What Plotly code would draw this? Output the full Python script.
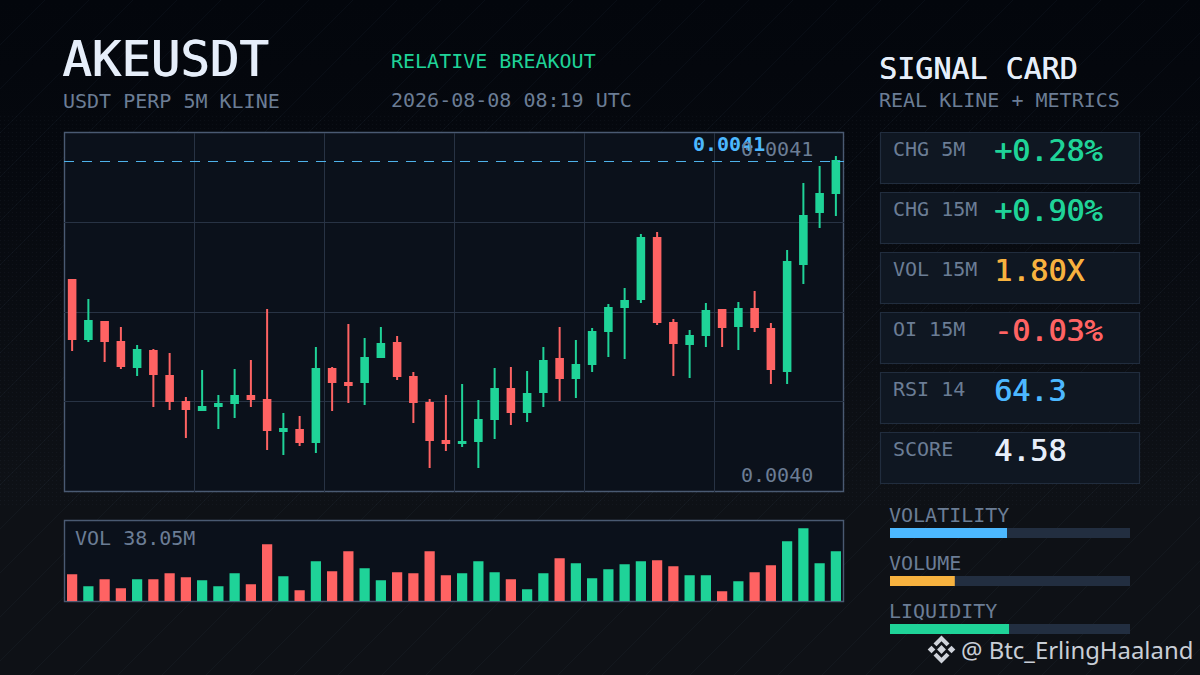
import base64
import plotly.graph_objects as go

# ---------- data ----------
high = [0.0040687,0.0040617,0.004054,0.0040519,0.0040456,0.0040442,0.0040428,0.0040274,0.00403685,0.0040281,0.0040372,0.00404035,
        0.0040582,0.0040218,0.00402075,0.0040449,0.0040379,0.00405295,0.00404805,0.0040519,0.00404875,0.00403615,0.0040267,0.0040281,
        0.00403195,0.00402635,0.00403755,0.0040379,0.0040365,0.0040449,0.0040519,0.00404735,0.00405155,0.00405995,0.00406555,0.00408445,
        0.00408515,0.0040547,0.00405085,0.0040603,0.0040582,0.00406065,0.0040645,0.0040533,0.00407885,0.0041023,0.00410825,0.00411175]
low = [0.0040435,0.00404665,0.00403965,0.0040372,0.00403475,0.0040239,0.00402285,0.00401305,0.0040225,0.0040162,0.00402005,0.0040239,
       0.00400885,0.0040071,0.00401025,0.0040078,0.0040225,0.0040253,0.0040246,0.00404105,0.00403335,0.0040183,0.00400255,0.0040085,
       0.0040099,0.00400255,0.0040127,0.0040176,0.00401865,0.0040239,0.004026,0.00402705,0.00403615,0.0040414,0.0040407,0.0040603,
       0.0040526,0.00403475,0.00403405,0.0040449,0.0040449,0.00404385,0.00405015,0.00403195,0.00403195,0.00406695,0.00408655,0.00409075]
open_ = [0.00406835,0.0040477,0.00405365,0.00404665,0.0040379,0.0040435,0.00403475,0.00402565,0.00402285,0.00402425,0.0040253,0.00402775,
         0.00402635,0.0040155,0.00401585,0.00401165,0.0040372,0.0040323,0.00403265,0.0040414,0.0040463,0.0040344,0.0040253,0.004012,
         0.0040113,0.004012,0.0040197,0.0040302,0.00402215,0.00402915,0.0040407,0.00403405,0.00403895,0.0040505,0.0040589,0.0040617,
         0.00408305,0.0040533,0.00404595,0.0040491,0.00405785,0.00405225,0.0040582,0.0040512,0.0040365,0.00407395,0.00409215,0.0040988]
close = [0.0040477,0.004054,0.004047,0.00403825,0.00404385,0.00403545,0.004026,0.0040232,0.0040239,0.00402495,0.00402775,0.0040267,
         0.00401585,0.0040162,0.00401165,0.0040372,0.00403265,0.0040316,0.00404105,0.00404595,0.00403475,0.00402565,0.00401235,0.0040113,
         0.00401165,0.00401935,0.0040302,0.00402215,0.00402845,0.00404,0.00403405,0.0040386,0.00405015,0.00405855,0.0040610,0.00408305,
         0.00405365,0.0040463,0.00404875,0.0040575,0.0040519,0.0040582,0.0040519,0.0040372,0.00407465,0.00409075,0.00409845,0.00411]
volume_m = [20.5,11.4,16.7,9.9,16.7,16.7,21.3,18.2,16.0,11.4,21.3,12.9,43.3,19.0,8.4,30.4,22.8,38.0,25.1,16.0,22.0,21.3,38.0,19.8,
            21.3,30.4,22.0,16.7,9.1,21.3,32.7,28.9,17.5,24.3,28.1,30.4,31.2,26.6,19.8,19.8,7.6,15.2,22.0,27.4,45.6,55.5,28.9,38.05]
candle_idx = list(range(len(close)))
last_price = 0.00410983

metric_names = ["VOLATILITY", "VOLUME", "LIQUIDITY"]
metric_values = [0.4875, 0.27, 0.496]
card_labels = ["CHG 5M", "CHG 15M", "VOL 15M", "OI 15M", "RSI 14", "SCORE"]
card_values = ["+0.28%", "+0.90%", "1.80X", "-0.03%", "64.3", "4.58"]

GREEN, RED, BLUE, ORANGE, WHITE, GRAY = "#1fd398", "#ff6363", "#4cb8ff", "#f7b23f", "#e6eefa", "#6b7d95"
card_colors = [GREEN, GREEN, ORANGE, RED, BLUE, WHITE]
metric_colors = [BLUE, ORANGE, GREEN]
MONO = "DejaVu Sans Mono"
W, H = 1200, 675


def px(x):
    return x / W


def py(y):
    return 1 - y / H


# ---------- background picture: gradient, hairlines, dots ----------
diag = "".join(f'<line x1="{d}" y1="0" x2="{d-900}" y2="900"/>' for d in range(45, 2100, 44))
svg = f'''<svg xmlns="http://www.w3.org/2000/svg" width="{W}" height="{H}" viewBox="0 0 {W} {H}">
<defs><linearGradient id="g" x1="0" y1="0" x2="0" y2="1">
<stop offset="0" stop-color="#03060c"/><stop offset="0.2" stop-color="#05080e"/>
<stop offset="0.72" stop-color="#0e1116"/><stop offset="1" stop-color="#0e1116"/></linearGradient>
<pattern id="d" width="4" height="4" patternUnits="userSpaceOnUse"><rect width="1" height="1" fill="#8fa8c8" fill-opacity="0.05"/></pattern></defs>
<rect width="{W}" height="{H}" fill="url(#g)"/>
<rect y="113" width="{W}" height="392" fill="url(#d)"/>
<g stroke="#7fa0c4" stroke-opacity="0.05" stroke-width="1">{diag}</g></svg>'''
bg_uri = "data:image/svg+xml;base64," + base64.b64encode(svg.encode()).decode()

# ---------- traces ----------
fig = go.Figure()
fig.add_trace(go.Candlestick(
    x=candle_idx, open=open_, high=high, low=low, close=close,
    increasing=dict(line=dict(color=GREEN, width=2), fillcolor=GREEN),
    decreasing=dict(line=dict(color=RED, width=2), fillcolor=RED),
    whiskerwidth=0, xaxis="x", yaxis="y", showlegend=False,
))
fig.add_trace(go.Scatter(
    x=[candle_idx[0] - 0.5, candle_idx[-1] + 0.5], y=[last_price, last_price], mode="lines",
    line=dict(color="#4fb2ea", width=1, dash="10px,8px"), xaxis="x", yaxis="y", showlegend=False,
))
fig.add_trace(go.Bar(
    x=candle_idx, y=volume_m, width=0.63,
    marker=dict(color=[GREEN if c >= o else RED for o, c in zip(open_, close)], line_width=0),
    xaxis="x2", yaxis="y2", showlegend=False,
))
fig.add_trace(go.Bar(
    y=metric_names, x=[1] * len(metric_names), orientation="h", width=0.208,
    marker=dict(color="#222e40", line_width=0), xaxis="x3", yaxis="y3", showlegend=False,
))
fig.add_trace(go.Bar(
    y=metric_names, x=metric_values, orientation="h", width=0.208,
    marker=dict(color=metric_colors, line_width=0), xaxis="x3", yaxis="y3", showlegend=False,
))

# ---------- panels ----------
shapes = []
for (x0, y0, x1, y1) in [(64.5, 132.5, 843.5, 491.5), (64.5, 520.5, 843.5, 601.5)]:
    shapes.append(dict(type="rect", xref="paper", yref="paper", x0=px(x0), x1=px(x1), y0=py(y0), y1=py(y1),
                       fillcolor="#0b111b", line=dict(color="#4a5a72", width=1.4), layer="below"))
for i in range(6):
    top = 132.5 + 60 * i
    shapes.append(dict(type="rect", xref="paper", yref="paper", x0=px(880.5), x1=px(1139.5), y0=py(top), y1=py(top + 51),
                       fillcolor="#0f1722", line=dict(color="#212d3e", width=1.2), layer="below"))


# Binance-style watermark logo
def diamond(cx, cy, r):
    return [(cx, cy - r), (cx + r, cy), (cx, cy + r), (cx - r, cy)]


def poly(points):
    return "M " + " L ".join(f"{px(x):.5f},{py(y):.5f}" for x, y in points) + " Z"


LC, CX, CY = "#cfd3da", 941.5, 649.5
logo = [diamond(CX, CY, 4.4), diamond(CX - 10, CY, 3.8), diamond(CX + 10, CY, 3.8),
        [(CX, CY - 14), (CX + 8, CY - 6), (CX + 5, CY - 3.2), (CX, CY - 8.2), (CX - 5, CY - 3.2), (CX - 8, CY - 6)],
        [(CX, CY + 14), (CX + 8, CY + 6), (CX + 5, CY + 3.2), (CX, CY + 8.2), (CX - 5, CY + 3.2), (CX - 8, CY + 6)]]
for pts in logo:
    shapes.append(dict(type="path", xref="paper", yref="paper", path=poly(pts), fillcolor=LC, line_width=0, layer="above"))

# ---------- texts ----------
ann = []


def label(text, x, y, size, color, bold=False, family=MONO, heavy=0):
    shown = f"<b>{text}</b>" if bold else text
    font = dict(family=family, size=size, color=color)
    if heavy:
        font["shadow"] = f"{heavy}px 0 0 {color}"
    ann.append(dict(text=shown, xref="paper", yref="paper", x=px(x), y=py(y), xanchor="left", yanchor="middle",
                    showarrow=False, borderpad=0, borderwidth=0, align="left", font=font))


label("AKEUSDT", 62, 59.5, 49, WHITE, heavy=1)
label("USDT PERP 5M KLINE", 63, 101, 20, GRAY)
label("RELATIVE BREAKOUT", 391, 61, 20, GREEN)
label("2026-08-08 08:19 UTC", 391, 99.5, 20, GRAY)
label("SIGNAL CARD", 879, 68.5, 30, WHITE, heavy=0.5)
label("REAL KLINE + METRICS", 879, 100.5, 20, GRAY)
label("0.0041", 693, 144, 20, BLUE, bold=True)
label("0.0041", 741, 149, 20, GRAY)
label("0.0040", 741, 475, 20, GRAY)
label("VOL 38.05M", 75, 537.5, 20, GRAY)
for i, (lab, val, col) in enumerate(zip(card_labels, card_values, card_colors)):
    top = 132 + 60 * i
    label(lab, 893, top + 17, 20, GRAY)
    label(val, 994, top + 18.5, 30, col, heavy=0.7)
for name, y in zip(metric_names, [515, 563, 611]):
    label(name, 889, y, 20, GRAY)
label("@ Btc_ErlingHaaland", 961, 649, 23.9, "#c9ced6", family="Noto Sans")

# ---------- layout ----------
hidden = dict(showgrid=False, zeroline=False, showticklabels=False, ticks="", showline=False)
GRID = "#283344"
fig.update_layout(
    width=W, height=H, autosize=False, margin=dict(l=0, r=0, t=0, b=0, pad=0),
    paper_bgcolor="rgba(0,0,0,0)", plot_bgcolor="rgba(0,0,0,0)", showlegend=False,
    barmode="overlay", boxgap=0.42, hovermode=False,
    shapes=shapes, annotations=ann,
    images=[dict(source=bg_uri, xref="paper", yref="paper", x=0, y=1, sizex=1, sizey=1,
                 xanchor="left", yanchor="top", sizing="stretch", layer="below")],
    xaxis=dict(domain=[px(64), px(844)], range=[-0.5, 47.5], tickvals=[7.5, 15.5, 23.5, 31.5, 39.5], showgrid=True,
               gridcolor=GRID, gridwidth=1, zeroline=False, showticklabels=False, ticks="", showline=False,
               rangeslider=dict(visible=False)),
    yaxis=dict(domain=[py(491.5), py(132.5)], range=[0.00399432, 0.00411998],
               tickvals=[0.00402574, 0.00405715, 0.00408856], showgrid=True, gridcolor=GRID, gridwidth=1,
               zeroline=False, showticklabels=False, ticks="", showline=False),
    xaxis2=dict(domain=[px(64), px(844)], range=[-0.5, 47.5], anchor="y2", **hidden),
    yaxis2=dict(domain=[py(601.3), py(520.5)], range=[0, 61.4], anchor="x2", **hidden),
    xaxis3=dict(domain=[px(890), px(1130)], range=[0, 1], anchor="y3", **hidden),
    yaxis3=dict(domain=[py(653), py(509)], range=[2.5, -0.5], anchor="x3", type="category",
                categoryorder="array", categoryarray=metric_names, **hidden),
)

fig.write_html("out.html", config=dict(displayModeBar=False),
               post_script="document.body.style.margin='0';document.body.style.background='#0a0d12';document.body.style.overflow='hidden';")
